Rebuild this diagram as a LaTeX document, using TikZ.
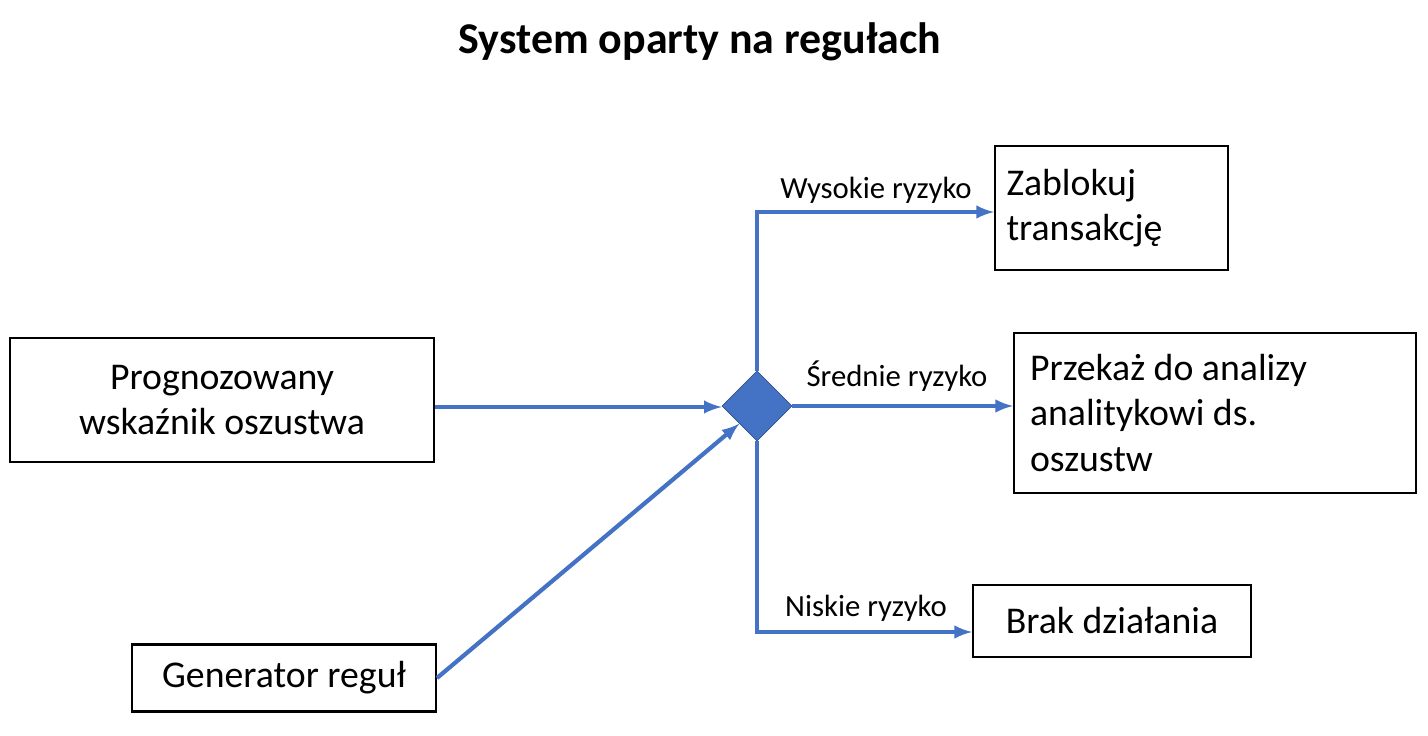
\documentclass[tikz,border=0pt]{standalone}
\usepackage{fontspec}
\setmainfont{Carlito}
\usetikzlibrary{shapes.geometric,positioning}
\definecolor{flow}{RGB}{68,114,196}
\begin{document}
\begin{tikzpicture}[x=0.02cm,y=-0.02cm,
    box/.style={draw=black, line width=1.2pt, inner sep=0pt, font=\fontsize{21.5}{26}\selectfont},
    lbl/.style={font=\fontsize{17.5}{21}\selectfont, inner sep=1pt},
    link/.style={-latex, flow, line width=2.4pt}
  ]
    \useasboundingbox (0,0) rectangle (1428,736);
    \node[font=\bfseries\fontsize{25}{30}\selectfont] (title) at (700,42) {System oparty na regułach};

    \node[box, minimum width=8.48cm, minimum height=2.48cm, align=center] (score) at (222,400) {Prognozowany\\wskaźnik oszustwa};
    \node[box, minimum width=6.08cm, minimum height=1.34cm] (gen) at (284,678) {Generator reguł};
    \node[diamond, fill=flow, draw=flow!70!black, minimum size=1.4cm, inner sep=0pt] (dec) at (757,406) {};

    \node[box, minimum width=4.66cm, minimum height=2.48cm, align=flush left, text width=4.2cm] (block) at (1111.5,208) {Zablokuj\\transakcję};
    \node[box, minimum width=8.04cm, minimum height=3.2cm, align=flush left, text width=7.4cm] (review) at (1215,413) {Przekaż do analizy\\analitykowi ds.\\oszustw};
    \node[box, minimum width=5.56cm, minimum height=1.44cm] (none) at (1112,621) {Brak działania};

    \draw[link] (score.east |- 0,407) -- (dec.west |- 0,407);
    \draw[link] (gen.east) -- (dec.south west);
    \draw[link] (dec.north) -- (dec.north |- 0,212) -- (block.west |- 0,212);
    \draw[link] (dec.east) -- (review.west |- dec.east);
    \draw[link] (dec.south) -- (dec.south |- 0,632) -- (none.west |- 0,632);

    \node[lbl] (hi) at (876,190) {Wysokie ryzyko};
    \node[lbl] (mid) at (897,376) {Średnie ryzyko};
    \node[lbl] (lo) at (866,608) {Niskie ryzyko};
  \end{tikzpicture}
\end{document}
